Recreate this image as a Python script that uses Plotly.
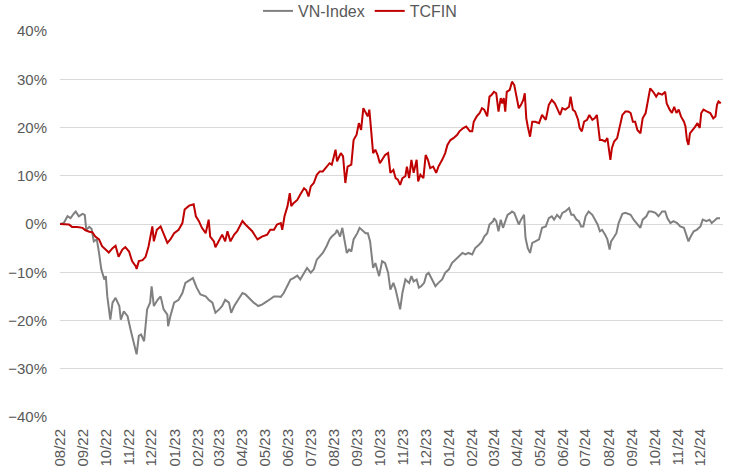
import pandas as pd
import plotly.graph_objects as go

START = "2022-08-01"

# TCFIN: day offsets from START and cumulative return (%)
tcfin_day = [0,5,12,16,23,30,34,39,43,47,52,56,61,65,70,74,78,83,87,92,
             96,101,102,105,110,114,118,123,125,129,134,138,143,147,152,158,163,166,172,178,
             181,185,189,194,198,200,205,207,212,216,220,223,227,232,236,243,247,252,256,263,
             269,276,280,
             285,289,294,296,299,303,306,308,311,316,320,325,328,331,334,338,342,346,350,355,
             359,362,367,369,374,377,380,383,388,391,395,398,401,404,407,410,412,414,417,420,
             423,426,429,433,437,440,444,447,450,453,456,460,462,465,468,471,475,477,480,484,
             487,490,493,497,501,504,509,513,516,520,524,529,532,537,541,546,549,551,555,559,
             562,565,569,572,575,
             578,581,584,587,589,591,593,595,599,602,605,608,611,614,617,619,621,623,626,629,
             633,638,642,647,651,655,659,662,666,669,673,678,680,683,686,690,692,695,698,702,
             705,709,712,715,719,722,726,729,731,733,735,738,742,745,749,753,757,760,763,766,
             769,773,776,780,783,786,790,794,797,802,806,808,812,815,818,821,824,827,831,833,
             835,837,839,843,846,849,852,854,857,862,866,870,873,875,877,880]
tcfin_val = [0,0,-0.1,-0.6,-0.6,-0.8,-1.3,-1.6,-1.7,-2.6,-3.2,-4.6,-5.3,-5.9,-5.0,-4.5,-6.8,-5.3,-4.8,-5.7,
             -7.7,-8.8,-9.3,-7.7,-7.5,-6.8,-4.6,-0.5,-3.6,-1.2,-0.5,-2.2,-3.9,-3.2,-1.9,-1.2,0.2,3.0,3.8,4.1,
             1.6,0.6,-0.8,-1.9,0.9,-2.6,-3.6,-4.8,-3.2,-2.2,-3.6,-1.5,-3.6,-2.2,-1.5,0.6,-0.1,-0.8,-1.5,-3.2,
             -2.6,-2.2,-1.2,
             -1.2,-0.1,0.2,-1.2,1.6,3.7,6.4,3.7,4.3,5.0,6.1,7.4,7.0,5.7,7.8,8.5,10.2,10.9,10.9,11.9,
             12.6,12.3,15.4,13.0,14.7,14.0,8.5,11.9,12.3,17.4,18.5,20.9,19.5,24.0,23.0,22.3,23.7,20.2,14.7,15.4,
             14.3,12.6,13.3,14.3,14.7,10.6,11.2,9.5,9.2,8.1,9.5,9.9,11.9,9.5,13.3,10.6,13.3,8.8,10.2,9.5,
             14.3,13.3,11.6,11.9,10.6,11.9,13.3,14.7,16.4,17.4,17.8,18.5,19.2,19.9,20.2,19.2,19.2,21.2,22.3,23.0,
             24.0,23.7,22.3,26.4,26.8,
             27.4,27.1,23.3,26.1,25.0,26.1,23.3,27.4,27.8,29.5,28.8,26.4,24.0,24.7,25.7,27.1,21.9,20.2,18.1,21.2,
             21.2,20.9,22.6,21.6,24.7,25.7,25.0,24.0,22.6,24.0,23.7,24.3,26.4,23.7,23.3,21.6,19.9,19.2,21.2,21.6,
             22.6,21.6,21.9,22.6,17.4,17.4,17.1,17.8,15.4,13.3,15.7,17.1,17.8,20.2,22.6,23.3,23.3,23.0,21.2,21.2,
             19.5,18.8,21.9,23.0,25.7,28.1,27.4,26.4,27.1,26.8,27.4,25.0,23.7,23.0,24.3,23.0,23.7,22.3,21.2,20.2,
             17.4,16.4,18.8,19.5,20.2,20.9,19.9,23.0,23.7,23.3,23.0,21.9,22.3,24.7,25.4,25.0]

# VN-Index: day offsets from START and cumulative return (%)
vn_day = [0,5,10,14,19,21,25,30,33,35,39,42,45,49,52,55,59,61,63,67,
          70,74,79,81,85,90,94,98,102,105,108,112,116,120,122,125,130,134,138,143,
          144,147,152,158,163,167,174,177,182,187,194,198,203,207,212,216,220,225,228,232,
          236,243,247,254,258,264,269,276,283,
          285,289,294,298,303,307,311,316,320,325,329,334,338,342,346,350,355,359,362,367,
          369,373,376,379,382,385,388,391,396,399,402,407,410,413,417,420,425,429,433,437,
          440,444,447,450,453,456,460,465,468,471,475,478,481,485,488,491,496,500,504,509,
          513,518,522,527,531,536,540,544,549,553,558,562,565,569,572,577,
          578,581,584,587,590,593,596,600,602,605,608,611,614,618,620,623,626,629,633,638,
          642,647,651,655,658,662,666,669,673,678,681,684,688,691,694,697,700,704,709,713,
          716,719,722,726,729,732,734,737,741,744,749,753,757,760,764,768,773,776,781,784,
          788,793,797,802,806,809,813,817,822,826,831,834,837,840,844,848,853,856,861,865,
          868,871,875,879]
vn_val = [0,0.2,1.6,1.2,2.3,2.6,1.6,2.1,1.9,-1.2,-0.6,-1.0,-3.6,-3.2,-6.0,-9.4,-11.5,-10.8,-15.0,-19.8,
          -16.3,-15.3,-17.0,-19.8,-18.1,-19.1,-21.9,-24.3,-27.0,-23.2,-22.9,-24.3,-17.7,-16.3,-12.9,-17.0,-15.7,-15.0,-17.7,-18.8,
          -21.2,-19.1,-16.3,-15.7,-14.3,-12.2,-11.5,-11.2,-13.2,-14.6,-15.0,-15.7,-16.3,-18.4,-17.7,-17.0,-15.7,-16.3,-18.4,-17.0,
          -16.0,-14.3,-14.6,-15.7,-16.3,-17.0,-16.7,-16.0,-15.3,
          -15.0,-15.0,-15.1,-14.3,-12.9,-11.5,-11.2,-10.7,-11.5,-10.1,-9.1,-10.1,-9.4,-7.4,-6.7,-6.0,-4.6,-3.2,-2.6,-1.9,
          -1.2,-2.6,-0.8,-3.9,-6.0,-5.3,-5.7,-3.2,-1.9,-0.8,-1.2,-1.9,-1.9,-3.6,-9.1,-8.1,-10.8,-7.7,-8.1,-10.1,
          -13.6,-12.2,-13.6,-15.7,-17.7,-14.3,-11.5,-12.2,-10.8,-11.9,-11.5,-13.2,-12.9,-12.2,-10.5,-10.1,-11.5,-12.9,-12.2,-11.5,
          -10.1,-9.4,-8.1,-7.4,-6.7,-6.0,-6.3,-6.0,-6.3,-5.0,-4.3,-3.6,-2.6,-1.9,-0.1,0.6,
          1.2,0.6,-1.5,0.9,-0.8,0.6,1.9,2.3,2.6,2.3,1.2,-0.1,0.9,1.9,-2.9,-5.0,-6.0,-3.9,-3.6,-3.2,
          -0.8,-0.5,1.2,1.6,0.9,1.9,1.2,2.3,2.6,3.3,1.9,1.9,0.9,0.6,-0.5,-0.5,1.6,2.6,1.9,0.9,
          -0.1,-1.5,-1.2,-2.2,-3.2,-5.3,-3.6,-2.9,-1.9,0.2,2.1,2.3,2.1,1.9,0.9,0.2,-0.8,0.9,1.6,2.6,
          2.6,2.3,1.6,2.6,2.6,1.2,0.2,0.6,0.2,-0.5,-0.8,-2.2,-3.6,-2.6,-1.5,-1.2,-0.5,0.9,0.6,0.9,
          0.2,0.6,1.2,1.2]

assert len(tcfin_day) == len(tcfin_val), (len(tcfin_day), len(tcfin_val))
assert len(vn_day) == len(vn_val), (len(vn_day), len(vn_val))

t0 = pd.Timestamp(START)
tcfin_x = [t0 + pd.Timedelta(days=d) for d in tcfin_day]
vn_x = [t0 + pd.Timedelta(days=d) for d in vn_day]

FONT = "Arial, Liberation Sans, sans-serif"
TXT = "#595959"
W, H = 734, 472

fig = go.Figure()
fig.add_trace(go.Scatter(x=vn_x, y=vn_val, mode="lines", name="VN-Index",
                         line=dict(color="#808080", width=2)))
fig.add_trace(go.Scatter(x=tcfin_x, y=tcfin_val, mode="lines", name="TCFIN",
                         line=dict(color="#C00000", width=2)))

fig.update_layout(
    width=W, height=H,
    margin=dict(l=60, r=11, t=31, b=55, autoexpand=False),
    paper_bgcolor="white", plot_bgcolor="white",
    font=dict(family=FONT, size=15, color=TXT),
    showlegend=True,
    legend=dict(orientation="h", xref="container", x=258 / W, xanchor="left",
                yref="container", y=1 - 11 / H, yanchor="middle",
                font=dict(size=16, color=TXT), bgcolor="rgba(0,0,0,0)",
                itemwidth=30, tracegroupgap=0),
)
fig.update_xaxes(
    type="date", range=["2022-08-01", "2024-12-31"], automargin=False,
    tick0="2022-08-01", dtick="M1", tickformat="%m/%y", tickangle=-90,
    showgrid=False, zeroline=False, showline=False, ticks="",
    tickfont=dict(size=15, color=TXT, family=FONT), ticklabelstandoff=8,
)
fig.update_yaxes(
    range=[-40, 40], dtick=10, ticksuffix="%", automargin=False,
    showgrid=True, gridcolor="#D9D9D9", gridwidth=1,
    zeroline=False, showline=False, ticks="",
    tickfont=dict(size=15, color=TXT, family=FONT), ticklabelstandoff=12,
)

# remove the browser's default 8px page margin so the figure fills the window
fig.write_html("out.html", config={"displayModeBar": False},
               post_script="document.body.style.margin='0';")
